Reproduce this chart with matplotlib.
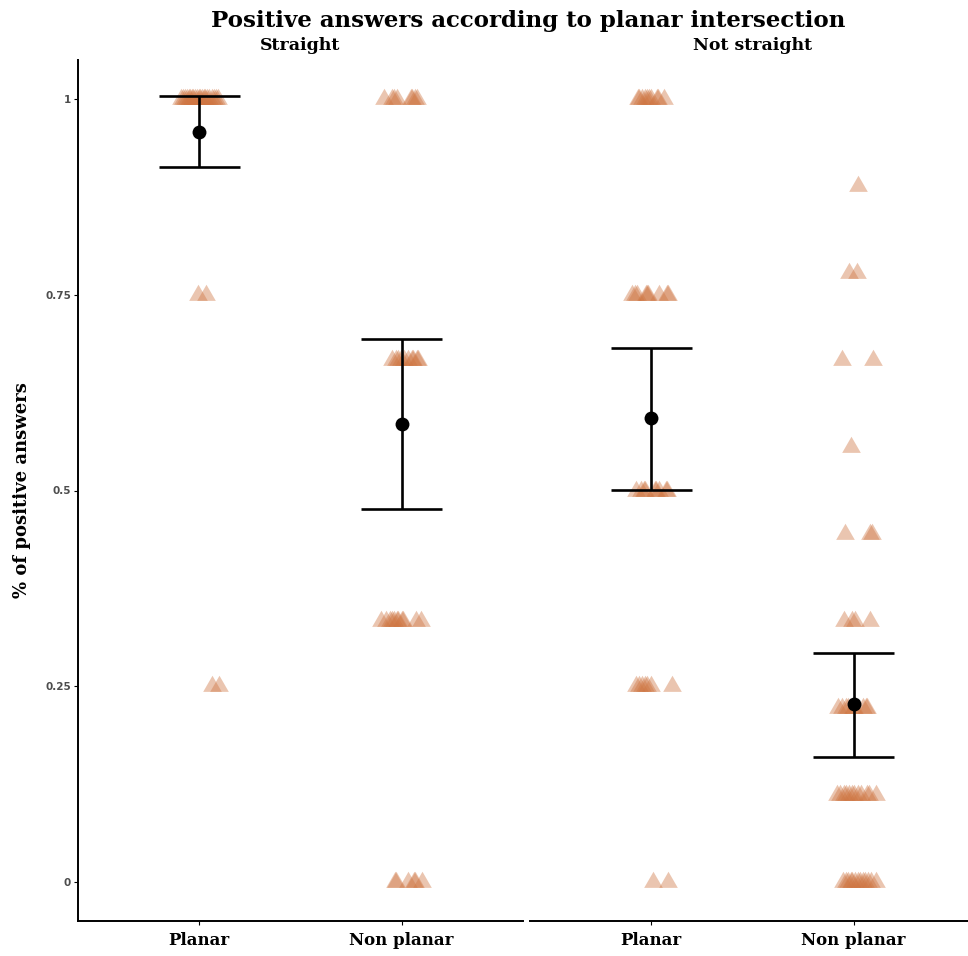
import matplotlib
matplotlib.use("Agg")
import matplotlib.pyplot as plt
import numpy as np

# facets / categories
panels = ["Straight", "Not straight"]
categories = ["Planar", "Non planar"]

# mean and confidence interval
means = [[0.958, 0.585], [0.592, 0.227]]
ci_low = [[0.913, 0.476], [0.501, 0.159]]
ci_high = [[1.004, 0.693], [0.682, 0.293]]

# individual answers: value -> horizontal jitter of each point (category units)
pts_straight_planar = {
    1.0: [-0.09, -0.08, -0.07, -0.06, -0.05, -0.045, -0.035, -0.03, -0.02, -0.01, 0.0,
          0.005, 0.015, 0.025, 0.03, 0.04, 0.05, 0.06, 0.07, 0.08, 0.09],
    0.75: [-0.005, 0.035],
    0.25: [0.06, 0.095],
}
pts_straight_nonplanar = {
    1.0: [-0.085, -0.05, -0.04, -0.025, 0.045, 0.05, 0.065, 0.075],
    2 / 3: [-0.05, -0.03, -0.02, -0.005, 0.01, 0.03, 0.05, 0.055, 0.075, 0.08],
    1 / 3: [-0.1, -0.075, -0.06, -0.05, -0.04, -0.025, -0.02, 0.0, 0.005, 0.07, 0.095],
    0.0: [-0.035, -0.03, 0.03, 0.06, 0.065, 0.1],
}
pts_notstraight_planar = {
    1.0: [-0.065, -0.06, -0.045, -0.03, -0.02, -0.01, 0.0, 0.03, 0.035, 0.06],
    0.75: [-0.095, -0.08, -0.07, -0.025, -0.02, -0.015, 0.04, 0.075, 0.08],
    0.5: [-0.075, -0.05, -0.035, -0.03, 0.02, 0.025, 0.04, 0.07, 0.075],
    0.25: [-0.075, -0.06, -0.045, -0.03, -0.02, 0.0, 0.1],
    0.0: [0.01, 0.08],
}
pts_notstraight_nonplanar = {
    8 / 9: [0.02],
    7 / 9: [-0.025, 0.015],
    6 / 9: [-0.06, 0.095],
    5 / 9: [-0.015],
    4 / 9: [-0.045, 0.08, 0.09],
    3 / 9: [-0.05, -0.01, 0.005, 0.08],
    2 / 9: [-0.075, -0.06, -0.04, -0.03, -0.005, 0.0, 0.045, 0.06, 0.065],
    1 / 9: [-0.08, -0.065, -0.05, -0.04, -0.025, -0.01, 0.0, 0.02, 0.035, 0.065, 0.075, 0.11],
    0.0: [-0.055, -0.04, -0.03, -0.015, -0.01, 0.005, 0.02, 0.03, 0.045, 0.055, 0.07, 0.085, 0.11],
}
points = [[pts_straight_planar, pts_straight_nonplanar],
          [pts_notstraight_planar, pts_notstraight_nonplanar]]

yticks = [0, 0.25, 0.5, 0.75, 1]
ytick_labels = ["0", "0.25", "0.5", "0.75", "1"]

serif = "DejaVu Serif"
pt_color = "#CF7643"

# equilateral triangle, centred on its centroid (like ggplot shape 17)
tri = [(-1, -0.577), (1, -0.577), (0, 1.155), (-1, -0.577)]

W, H = 968, 956
fig = plt.figure(figsize=(W / 100, H / 100), dpi=100)
bottom = (H - 921) / H
height = (921 - 60) / H
ax1 = fig.add_axes([78 / W, bottom, 445 / W, height])
ax2 = fig.add_axes([530 / W, bottom, 438 / W, height])
axes = [ax1, ax2]
px_per_unit = 445 / 2.2

for p, ax in enumerate(axes):
    for c in range(len(categories)):
        xc = c + 1
        for val, jit in points[p][c].items():
            xs = xc + np.array(jit)
            ax.plot(xs, np.full(len(xs), val), linestyle="none", marker=tri,
                    markersize=15.5, color=pt_color, alpha=0.42, markeredgewidth=0,
                    zorder=2)
        ax.plot([xc, xc], [ci_low[p][c], ci_high[p][c]], color="black", lw=1.9,
                zorder=3, solid_capstyle="butt")
        for yv in (ci_low[p][c], ci_high[p][c]):
            ax.plot([xc - 0.2, xc + 0.2], [yv, yv], color="black", lw=1.9,
                    zorder=3, solid_capstyle="butt")
        ax.plot(xc, means[p][c], marker="o", markersize=10, color="black",
                zorder=4, markeredgewidth=0)

    ax.set_ylim(-0.05, 1.05)
    ax.set_xlim(0.4, 0.4 + ax.get_position().width * W / px_per_unit)
    ax.set_xticks([1, 2])
    ax.set_xticklabels(categories, fontfamily=serif, fontweight="bold", fontsize=12)
    ax.tick_params(axis="x", length=3, width=0.8, pad=5)
    for s in ["top", "right"]:
        ax.spines[s].set_visible(False)
    ax.spines["bottom"].set_linewidth(1.4)
    # facet strip label, centred over a full-width panel
    ax.text(222.5 / (ax.get_position().width * W), 1 + 14 / 861, panels[p],
            transform=ax.transAxes, ha="center", va="center",
            fontfamily=serif, fontweight="bold", fontsize=12.5, clip_on=False)

ax1.set_yticks(yticks)
ax1.set_yticklabels(ytick_labels, fontsize=7.5, fontweight="bold", color="#4D4D4D")
ax1.tick_params(axis="y", length=3, width=0.8, pad=2)
ax1.spines["left"].set_linewidth(1.4)

ax2.spines["left"].set_visible(False)
ax2.set_yticks([])

fig.text(528 / W, 1 - 21 / H, "Positive answers according to planar intersection",
         ha="center", va="center", fontfamily=serif, fontweight="bold", fontsize=16.5)
fig.text(22 / W, bottom + height / 2, "% of positive answers", rotation=90,
         ha="center", va="center", fontfamily=serif, fontweight="bold", fontsize=13)

fig.savefig("out.png", dpi=100)
